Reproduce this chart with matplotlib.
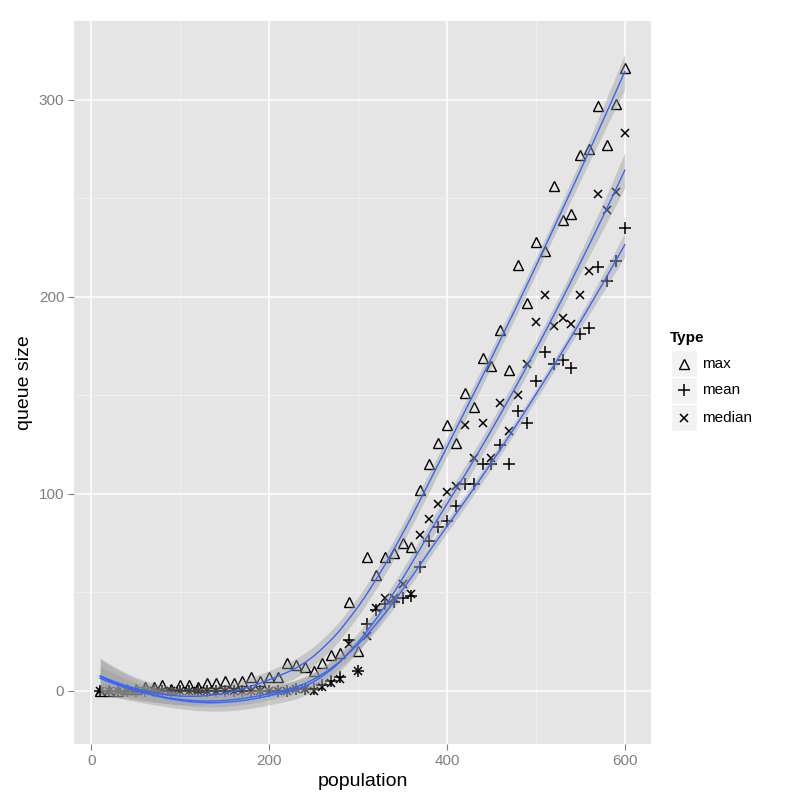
import numpy as np
import matplotlib
matplotlib.use("Agg")
import matplotlib.pyplot as plt
from matplotlib.patches import Rectangle
from matplotlib.lines import Line2D

population = list(range(10, 610, 10))

max_q = [0, 0, 0, 1, 1, 2, 2, 3, 1, 3, 3, 2, 4, 4, 5, 4, 5, 7, 5, 7,
         7, 14, 13, 12, 10, 14, 18, 19, 45, 20, 68, 59, 68, 70, 75, 73, 102, 115, 126, 135,
         126, 151, 144, 169, 165, 183, 163, 216, 197, 228, 223, 256, 239, 242, 272, 275, 297, 277, 298, 316]
mean_q = [0, 0, 0, 0, 0, 0, 0, 0, 0, 0, 0, 0, 0, 0, 0, 0, 0, 0, 0, 0,
          0, 0, 1, 1, 1, 3, 5, 7, 26, 10, 34, 41, 44, 45, 47, 48, 63, 76, 83, 86,
          94, 105, 105, 115, 115, 125, 115, 142, 136, 157, 172, 166, 168, 164, 181, 184, 215, 208, 218, 235]
median_q = [0, 0, 0, 0, 0, 0, 0, 0, 0, 0, 0, 0, 0, 0, 0, 0, 0, 0, 0, 0,
            0, 0, 1, 1, 0, 2, 4, 6, 24, 10, 28, 42, 47, 47, 54, 49, 79, 87, 95, 101,
            104, 135, 118, 136, 118, 146, 132, 150, 166, 187, 201, 185, 189, 186, 201, 213, 252, 244, 253, 283]

types = ["max", "mean", "median"]
series = {"max": max_q, "mean": mean_q, "median": median_q}
markers = {"max": "^", "mean": "+", "median": "x"}
msizes = {"max": 7, "mean": 9, "median": 6}


def loess_rows(x, x0s, span=0.75):
    n = len(x)
    q = int(np.floor(n * span))
    rows = []
    for x0 in x0s:
        d = np.abs(x - x0)
        h = np.sort(d)[q - 1]
        u = np.clip(d / h, 0, 1)
        w = (1 - u ** 3) ** 3
        X = np.column_stack([np.ones(n), x - x0, (x - x0) ** 2])
        XtW = X.T * w
        A = XtW @ X
        l = np.linalg.solve(A, XtW)[0]
        rows.append(l)
    return np.array(rows)


def t975(df):
    z = 1.959964
    return z + (z ** 3 + z) / (4 * df) + (5 * z ** 5 + 16 * z ** 3 + 3 * z) / (96 * df ** 2)


x = np.array(population, dtype=float)
xs = np.linspace(x.min(), x.max(), 80)
Lfit = loess_rows(x, x)
Lgrid = loess_rows(x, xs)
IL = np.eye(len(x)) - Lfit
M = IL.T @ IL
one_delta = np.trace(M)
two_delta = np.trace(M @ M)
dfree = one_delta ** 2 / two_delta
tq = t975(dfree)

fits = {}
for t in types:
    y = np.array(series[t], dtype=float)
    res = y - Lfit @ y
    s = np.sqrt(np.sum(res ** 2) / one_delta)
    f = Lgrid @ y
    se = s * np.sqrt(np.sum(Lgrid ** 2, axis=1))
    fits[t] = (f, f - tq * se, f + tq * se)

plt.rcParams['font.family'] = ['Liberation Sans', 'DejaVu Sans']
fig = plt.figure(figsize=(8, 8), dpi=100)
ax = fig.add_axes([74 / 800, 1 - 744 / 800, (651 - 74) / 800, (744 - 21) / 800])
ax.set_facecolor("#E5E5E5")
for sp in ax.spines.values():
    sp.set_visible(False)

# points
for t in types:
    y = series[t]
    if markers[t] == "^":
        ax.plot(population, y, linestyle="none", marker="^", markersize=msizes[t],
                markerfacecolor="none", markeredgecolor="black", markeredgewidth=1.0, zorder=3)
    else:
        ax.plot(population, y, linestyle="none", marker=markers[t], markersize=msizes[t],
                color="black", markeredgewidth=1.1, zorder=3)

# smooths
for t in types:
    f, lo, hi = fits[t]
    ax.fill_between(xs, lo, hi, color="#999999", alpha=0.4, linewidth=0, zorder=4)
    ax.plot(xs, f, color="#3366FF", linewidth=1.0, zorder=5)

# limits (ggplot-style 5% expansion)
xr = x.max() - x.min()
ax.set_xlim(x.min() - 0.05 * xr, x.max() + 0.05 * xr)
allv = np.concatenate([np.array(series[t], float) for t in types] +
                      [fits[t][1] for t in types] + [fits[t][2] for t in types])
yr = allv.max() - allv.min()
ax.set_ylim(allv.min() - 0.05 * yr, allv.max() + 0.05 * yr)

ax.set_xticks([0, 200, 400, 600])
ax.set_yticks([0, 100, 200, 300])
ax.set_xticks([100, 300, 500], minor=True)
ax.set_yticks([50, 150, 250], minor=True)
ax.grid(True, which="major", color="white", linewidth=1.1, zorder=0)
ax.grid(True, which="minor", color="#F2F2F2", linewidth=0.6, zorder=0)
ax.set_axisbelow(True)
ax.tick_params(which="major", length=4, width=0.8, color="#7F7F7F", labelcolor="#7F7F7F",
               labelsize=11, pad=3)
ax.tick_params(which="minor", length=0)
ax.set_xlabel("population", fontsize=14, labelpad=4)
ax.set_ylabel("queue size", fontsize=14, labelpad=4)

# legend
fig.text(670 / 800, 1 - 338 / 800, "Type", fontsize=11, fontweight="bold", va="center", ha="left")
key_top = 350
key_h = 27
key_w = 26
for i, t in enumerate(types):
    top = key_top + i * key_h
    fig.patches.append(Rectangle((671 / 800, 1 - (top + key_h) / 800), key_w / 800, key_h / 800,
                                 transform=fig.transFigure, facecolor="#F2F2F2",
                                 edgecolor="white", linewidth=1.0, zorder=1))
    cy = 1 - (top + key_h / 2) / 800
    cx = (671 + key_w / 2) / 800
    if markers[t] == "^":
        fig.lines.append(Line2D([cx], [cy], transform=fig.transFigure, linestyle="none", marker="^",
                                markersize=msizes[t], markerfacecolor="none",
                                markeredgecolor="black", markeredgewidth=1.0))
    else:
        fig.lines.append(Line2D([cx], [cy], transform=fig.transFigure, linestyle="none",
                                marker=markers[t], markersize=msizes[t], color="black",
                                markeredgewidth=1.1))
    fig.text(702 / 800, cy, t, fontsize=11, va="center", ha="left")

fig.savefig("out.png", dpi=100)
